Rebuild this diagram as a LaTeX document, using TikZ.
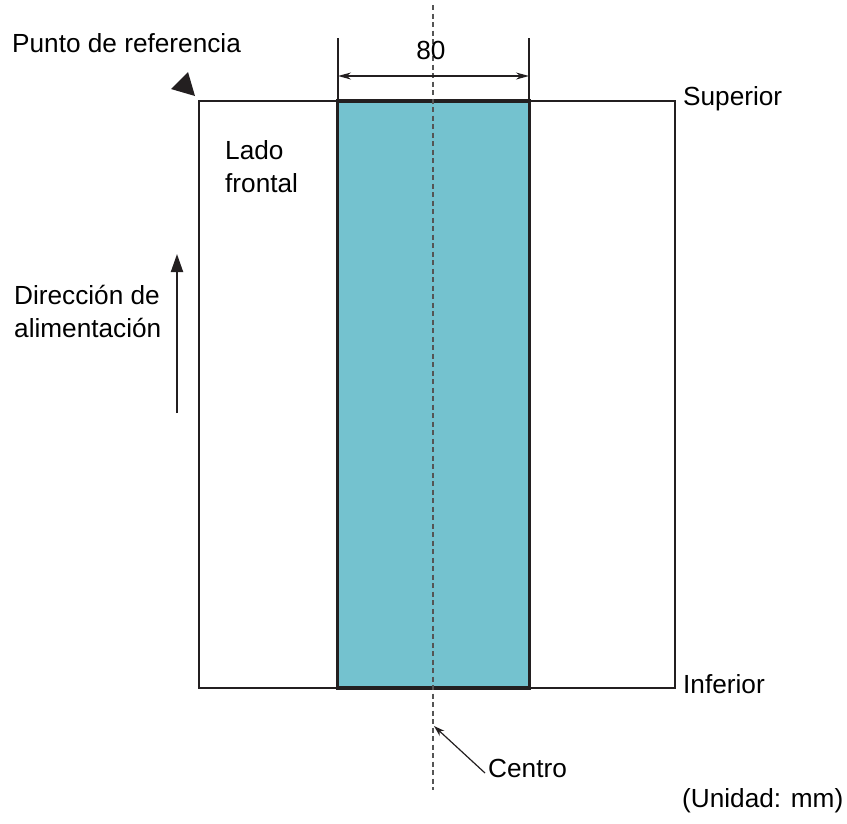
\documentclass[tikz,border=0pt]{standalone}
\usepackage{fontspec}
\setmainfont{Liberation Sans}
\usetikzlibrary{arrows.meta}
\definecolor{paperblue}{HTML}{74C2CF}
\definecolor{inkblack}{HTML}{231F20}
\definecolor{dashgray}{HTML}{555555}
\tikzset{
  lbl/.style={anchor=base west, inner sep=0pt, font=\fontsize{26.2}{33}\selectfont, text=black, align=left},
  thinline/.style={line width=1.5pt, draw=inkblack},
  dimarrow/.style={line width=1.3pt, draw=inkblack, {Stealth[length=13pt,width=7pt]}-{Stealth[length=13pt,width=7pt]}},
}
\begin{document}
\begin{tikzpicture}[x=1pt,y=-1pt]
\useasboundingbox (0,0) rectangle (847,823);
% outer sheet
\coordinate (sNW) at (199,101);
\coordinate (sSE) at (675,688);
\draw[thinline] (sNW) rectangle (sSE);
% blue area
\coordinate (aNW) at (337.5,101);
\coordinate (aSE) at (529.5,688);
\draw[draw=inkblack, line width=3.5pt, fill=paperblue] (aNW) rectangle (aSE);
% center dashed line
\coordinate (ctop) at (433,5);
\coordinate (cbot) at (433,790);
\draw[dashgray, line width=1.4pt, dash pattern=on 5pt off 3.5pt] (ctop) -- (cbot);
% dimension
\coordinate (el1) at (338,38);
\coordinate (el1b) at (338,101);
\coordinate (el2) at (529,38);
\coordinate (el2b) at (529,101);
\draw[thinline, line width=1.2pt] (el1) -- (el1b);
\draw[thinline, line width=1.2pt] (el2) -- (el2b);
\coordinate (d1) at (338,76);
\coordinate (d2) at (529,76);
\draw[dimarrow] (d1) -- (d2);
\node[anchor=base, inner sep=0pt, font=\fontsize{26.2}{33}\selectfont] (dim) at (431,59) {80};
% reference point marker
\coordinate (t1) at (171,89);
\coordinate (t2) at (188,72);
\coordinate (t3) at (195,96);
\fill[inkblack] (t1) -- (t2) -- (t3) -- cycle;
\node[lbl] (ref) at (12,52) {Punto de referencia};
% labels
\node[lbl] (sup) at (683,105) {Superior};
\node[lbl] (inf) at (683,693) {Inferior};
\node[lbl] (lado) at (225,192) {Lado\\frontal};
\node[lbl] (dir) at (14,337) {Dirección de\\alimentación};
\node[lbl] (unit) at (682,807) {(Unidad: mm)};
\node[lbl] (centro) at (488,777) {Centro};
% feed direction arrow
\coordinate (f1) at (177,413);
\coordinate (f2) at (177,254);
\draw[line width=2pt, draw=inkblack, -{Triangle[length=18pt,width=12pt]}] (f1) -- (f2);
% centre pointer
\coordinate (cp) at (434,726);
\coordinate (ctail) at (485,773);
\draw[line width=1.2pt, draw=inkblack, -{Stealth[length=11pt,width=7pt]}] (ctail) -- (cp);
\end{tikzpicture}
\end{document}
